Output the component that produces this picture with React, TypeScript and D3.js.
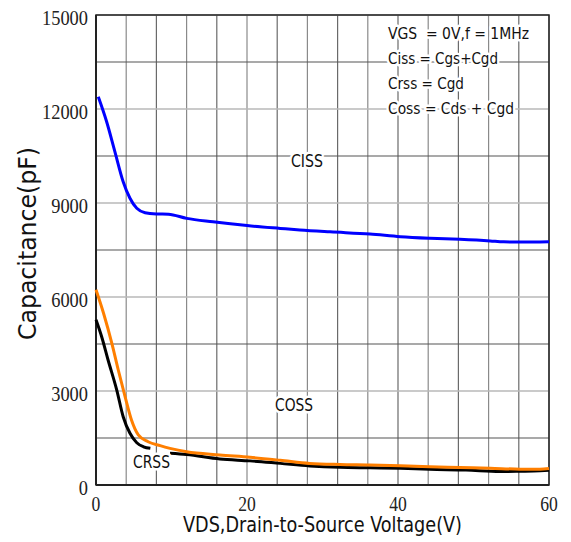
import React from 'react';
import * as d3 from 'd3';

// capacitance vs drain-source voltage
const cissV = [0.3, 1.4, 2.5, 3.6, 4.5, 5.4, 6.5, 8.0, 9.6, 12, 15.5, 20, 24.4, 27, 31, 36.3, 40.3, 44.2, 48.2, 52.2, 54, 56.2, 60];
const cissC = [12390, 11600, 10640, 9680, 9150, 8830, 8690, 8650, 8640, 8510, 8400, 8280, 8190, 8140, 8080, 8010, 7925, 7875, 7840, 7790, 7760, 7755, 7765];

const cossV = [0, 1.0, 2.1, 2.95, 3.85, 4.7, 5.6, 6.9, 8.5, 9.8, 12, 16.4, 20.4, 24.4, 28.3, 32.3, 36.3, 40.3, 44.2, 48.2, 52.2, 56.2, 58.8, 60];
const cossC = [6230, 5480, 4520, 3670, 2820, 2075, 1600, 1380, 1255, 1170, 1060, 960, 885, 790, 690, 655, 640, 615, 585, 560, 535, 505, 500, 525];

const crssV = [0, 0.75, 1.6, 2.75, 3.6, 4.5, 5.4, 6.3, 7.2, 9.8, 12, 16.4, 20.4, 24.4, 28.3, 32.3, 36.3, 40.3, 44.2, 49, 53.5, 56.2, 58.8, 60];
const crssC = [5270, 4730, 3990, 3030, 2180, 1650, 1350, 1220, 1170, 1010, 970, 830, 770, 690, 610, 565, 550, 533, 500, 479, 430, 440, 455, 470];

const yTicks = [0, 3000, 6000, 9000, 12000, 15000];
const yMinor = [1500, 4500, 7500, 10500, 13500];
const xTicks = [0, 20, 40, 60];
const xGrid = d3.range(0, 61, 4);

const legendLines = ['VGS  = 0V,f = 1MHz', 'Ciss = Cgs+Cgd', 'Crss = Cgd', 'Coss = Cds + Cgd'];
const legendWidths = [141, 110, 76, 126];

const W = 571;
const H = 542;
const margin = { top: 15, right: 22, bottom: 57, left: 96 };

const sansNarrow = '"DejaVu Sans Condensed", "Liberation Sans Narrow", "Liberation Sans", sans-serif';
const serif = '"Liberation Serif", "DejaVu Serif", serif';

const zip = (v: number[], c: number[]) => v.map((d, i) => [d, c[i]] as [number, number]);

export default function App() {
  const x = d3.scaleLinear().domain([0, 60]).range([margin.left, W - margin.right]);
  const y = d3.scaleLinear().domain([0, 15000]).range([H - margin.bottom, margin.top]);

  const line = d3
    .line<[number, number]>()
    .x((d) => x(d[0]))
    .y((d) => y(d[1]))
    .curve(d3.curveMonotoneX);

  const ciss = zip(cissV, cissC);
  const coss = zip(cossV, cossC);
  const crss = zip(crssV, crssC);
  // the CRSS label sits in a gap of the black curve
  const crssA = crss.filter((d) => d[0] <= 7.2);
  const crssB = crss.filter((d) => d[0] >= 9.8);

  const x0 = x(0);
  const x1 = x(60);
  const y0 = y(0);
  const y1 = y(15000);

  const halo = { stroke: 'white', strokeWidth: 5, paintOrder: 'stroke' as const, strokeLinejoin: 'round' as const };

  return (
    <svg width={W} height={H} style={{ position: 'absolute', left: 0, top: 0, background: 'white' }}>
      <rect width={W} height={H} fill="white" />
      {/* grid */}
      {xGrid.map((v) => (
        <line key={'gx' + v} x1={x(v)} x2={x(v)} y1={y1} y2={y0} stroke={v % 8 === 0 ? '#6a6a6a' : '#8a8a8a'} strokeWidth={1.2} />
      ))}
      {yTicks.map((v) => (
        <line key={'gy' + v} x1={x0} x2={x1} y1={y(v)} y2={y(v)} stroke="#b8b8b8" strokeWidth={1.3} />
      ))}
      {yMinor.map((v) => (
        <line key={'gm' + v} x1={x0} x2={x1} y1={y(v)} y2={y(v)} stroke="#555" strokeWidth={1.2} />
      ))}

      {/* frame */}
      <rect x={x0} y={y1} width={x1 - x0} height={y0 - y1} fill="none" stroke="#222" strokeWidth={1.5} />
      <line x1={x0} x2={x0} y1={y1} y2={y0} stroke="#222" strokeWidth={2} />
      <line x1={x0} x2={x1} y1={y0} y2={y0} stroke="#222" strokeWidth={2} />

      {/* legend text */}
      {legendLines.map((t, i) => (
        <text
          key={t}
          x={388}
          y={39 + i * 25}
          fontFamily={sansNarrow}
          fontSize={16}
          textLength={legendWidths[i]}
          lengthAdjust="spacingAndGlyphs"
          fill="#111"
          style={{ whiteSpace: 'pre' }}
          {...halo}
        >
          {t}
        </text>
      ))}

      {/* curves */}
      <path d={line(crssA) ?? ''} fill="none" stroke="#000" strokeWidth={3} />
      <path d={line(crssB) ?? ''} fill="none" stroke="#000" strokeWidth={3} />
      <path d={line(coss) ?? ''} fill="none" stroke="#ff7f00" strokeWidth={3} />
      <path d={line(ciss) ?? ''} fill="none" stroke="#0000ff" strokeWidth={3} />

      {/* curve labels */}
      <text x={291} y={167} fontFamily={sansNarrow} fontSize={17} textLength={32} lengthAdjust="spacingAndGlyphs" fill="#111" {...halo}>
        CISS
      </text>
      <text x={275} y={411} fontFamily={sansNarrow} fontSize={17} textLength={38} lengthAdjust="spacingAndGlyphs" fill="#111" {...halo}>
        COSS
      </text>
      <text x={133} y={468} fontFamily={sansNarrow} fontSize={17} textLength={37} lengthAdjust="spacingAndGlyphs" fill="#111" {...halo}>
        CRSS
      </text>

      {/* y tick labels */}
      {yTicks.map((v) => (
        <text
          key={'ty' + v}
          x={88}
          y={y(v) + 9.5}
          textAnchor="end"
          fontFamily={serif}
          fontSize={21}
          textLength={String(v).length * 9.2}
          lengthAdjust="spacingAndGlyphs"
          fill="#222"
        >
          {v}
        </text>
      ))}

      {/* x tick labels */}
      {xTicks.map((v) => (
        <text
          key={'tx' + v}
          x={x(v)}
          y={511}
          textAnchor="middle"
          fontFamily={serif}
          fontSize={20}
          textLength={String(v).length * 8.8}
          lengthAdjust="spacingAndGlyphs"
          fill="#222"
        >
          {v}
        </text>
      ))}

      {/* axis titles */}
      <text x={183} y={532} fontFamily={sansNarrow} fontSize={21} textLength={279} lengthAdjust="spacingAndGlyphs" fill="#111">
        VDS,Drain-to-Source Voltage(V)
      </text>
      <text
        transform={`translate(36,${(147 + 340) / 2}) rotate(-90)`}
        textAnchor="middle"
        fontFamily={sansNarrow}
        fontSize={24}
        textLength={193}
        lengthAdjust="spacingAndGlyphs"
        fill="#111"
      >
        Capacitance(pF)
      </text>
    </svg>
  );
}
